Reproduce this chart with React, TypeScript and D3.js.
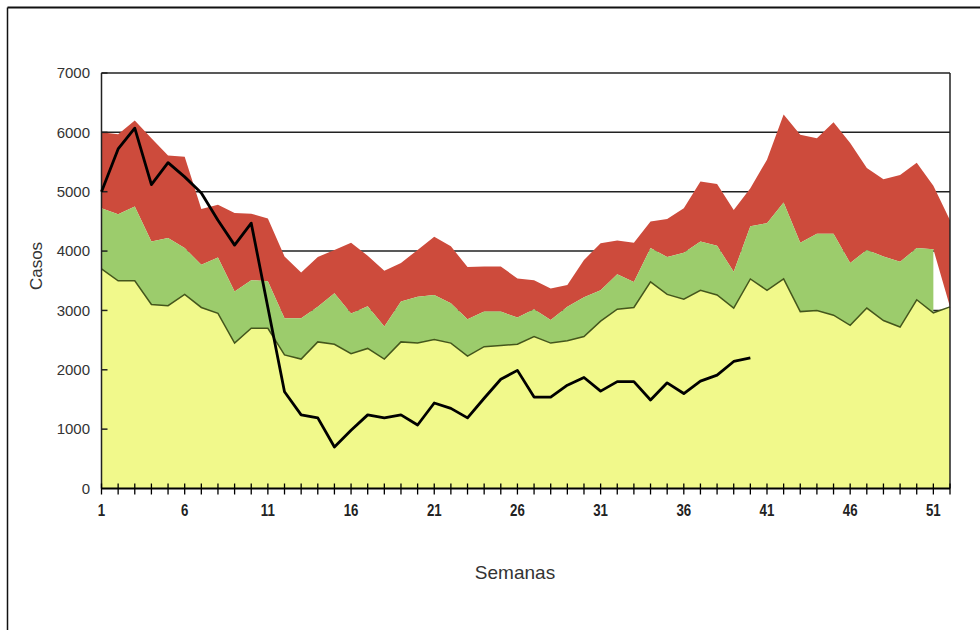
import React from 'react';
import * as d3 from 'd3';

// weeks 1..52
const weeks = d3.range(1, 53);

// zona de éxito (top of yellow)
const yellowTop = [
  3700, 3500, 3500, 3100, 3080, 3270, 3050, 2950, 2450, 2700,
  2700, 2250, 2180, 2470, 2430, 2270, 2360, 2180, 2470, 2450,
  2510, 2450, 2230, 2390, 2410, 2430, 2560, 2450, 2490, 2560,
  2820, 3020, 3050, 3480, 3270, 3190, 3340, 3260, 3040, 3530,
  3340, 3530, 2980, 3000, 2920, 2750, 3040, 2830, 2720, 3180,
  2960, 3060,
];

// zona de seguridad (top of green); week 52 empty
const greenTop: (number | null)[] = [
  4720, 4620, 4750, 4160, 4220, 4050, 3770, 3890, 3320, 3510,
  3490, 2870, 2870, 3060, 3290, 2950, 3070, 2730, 3150, 3230,
  3260, 3120, 2850, 2980, 2980, 2880, 3020, 2840, 3060, 3220,
  3340, 3610, 3480, 4050, 3900, 3970, 4160, 4090, 3650, 4420,
  4470, 4820, 4140, 4290, 4290, 3800, 4020, 3910, 3820, 4050,
  4030, null,
];

// zona de alerta (top of red)
const redTop = [
  6000, 5970, 6200, 5900, 5610, 5590, 4710, 4780, 4640, 4630,
  4550, 3910, 3640, 3900, 4020, 4140, 3920, 3670, 3800, 4020,
  4240, 4080, 3730, 3740, 3740, 3540, 3510, 3370, 3430, 3850,
  4130, 4180, 4140, 4500, 4540, 4720, 5170, 5130, 4690, 5060,
  5540, 6300, 5960, 5900, 6170, 5820, 5400, 5210, 5280, 5490,
  5100, 4520,
];

// current year, weeks 1..40
const current = [
  5000, 5720, 6070, 5120, 5490, 5250, 4980, 4520, 4100, 4470,
  3050, 1630, 1240, 1190, 700, 980, 1240, 1190, 1240, 1070,
  1440, 1350, 1190, 1520, 1840, 1990, 1540, 1540, 1740, 1870,
  1640, 1800, 1800, 1490, 1780, 1600, 1810, 1910, 2140, 2200,
];

const xTickLabels = [1, 6, 11, 16, 21, 26, 31, 36, 41, 46, 51];
const yTicks = [0, 1000, 2000, 3000, 4000, 5000, 6000, 7000];

const W = 980;
const H = 630;
const FONT = '"Liberation Sans", Arial, sans-serif';

const x = d3.scaleLinear().domain([1, 52]).range([101.5, 950]);
const y = d3.scaleLinear().domain([0, 7000]).range([488.5, 73]);

export default function App() {
  const idx = weeks.map((_, i) => i);

  const yellowArea = d3.area<number>()
    .x(i => x(weeks[i]))
    .y0(() => y(0))
    .y1(i => y(yellowTop[i]));

  const yellowLine = d3.line<number>()
    .x(i => x(weeks[i]))
    .y(i => y(yellowTop[i]));

  const greenArea = d3.area<number>()
    .defined(i => greenTop[i] != null)
    .x(i => x(weeks[i]))
    .y0(i => y(yellowTop[i]))
    .y1(i => y(greenTop[i] as number));

  const redArea = d3.area<number>()
    .x(i => x(weeks[i]))
    .y0(i => y(greenTop[i] ?? yellowTop[i]))
    .y1(i => y(redTop[i]));

  const currentLine = d3.line<number>()
    .x((_, i) => x(weeks[i]))
    .y(d => y(d));

  const x0 = x.range()[0];
  const x1 = x.range()[1];

  return (
    <svg width={W} height={H} style={{ display: 'block' }}>
      <style>{`body{margin:0}`}</style>
      <rect width={W} height={H} fill="#fff" />
      {/* outer frame: top and left edges */}
      <line x1={7.5} x2={W} y1={7.5} y2={7.5} stroke="#111" strokeWidth={2} />
      <line x1={7.5} x2={7.5} y1={7.5} y2={H} stroke="#111" strokeWidth={1.5} />

      {/* grid */}
      {yTicks.slice(1).map(t => (
        <line key={t} x1={x0} x2={x1} y1={y(t)} y2={y(t)} stroke="#222" strokeWidth={1.5} />
      ))}

      <path d={redArea(idx) || ''} fill="#cd4b3c" />
      <path d={greenArea(idx) || ''} fill="#9ccc6c" />
      <path d={yellowArea(idx) || ''} fill="#f1f98b" />
      <path d={yellowLine(idx) || ''} fill="none" stroke="#44561c" strokeWidth={1.5} />

      {/* plot borders */}
      <line x1={x1} x2={x1} y1={y(7000)} y2={y(0)} stroke="#222" strokeWidth={1.5} />
      <line x1={x0} x2={x0} y1={y(7000)} y2={y(0)} stroke="#222" strokeWidth={1.5} />
      {yTicks.slice(1).map(t => (
        <line key={'t' + t} x1={x0} x2={x0 + 6} y1={y(t)} y2={y(t)} stroke="#222" strokeWidth={1.5} />
      ))}

      {/* x axis */}
      <line x1={x0} x2={x1} y1={y(0)} y2={y(0)} stroke="#000" strokeWidth={2} />
      {weeks.map(w => (
        <line key={w} x1={x(w)} x2={x(w)} y1={y(0) - 5} y2={y(0) + 6} stroke="#000" strokeWidth={1.3} />
      ))}
      {xTickLabels.map(w => (
        <text key={w} transform={`translate(${x(w)},${516}) scale(0.78,1)`} textAnchor="middle"
          fontFamily={FONT} fontSize={17} fontWeight="bold" fill="#222">{w}</text>
      ))}

      {/* y labels */}
      {yTicks.map(t => (
        <text key={t} x={90} y={y(t)} dy="0.35em" textAnchor="end" fontFamily={FONT}
          fontSize={15} fill="#333">{t}</text>
      ))}

      <path d={currentLine(current) || ''} fill="none" stroke="#000" strokeWidth={2.8}
        strokeLinejoin="round" />

      <text transform="translate(42,266) rotate(-90)" textAnchor="middle" fontFamily={FONT}
        fontSize={17} fill="#333">Casos</text>
      <text x={515} y={579} textAnchor="middle" fontFamily={FONT} fontSize={19} fill="#333">Semanas</text>
    </svg>
  );
}
